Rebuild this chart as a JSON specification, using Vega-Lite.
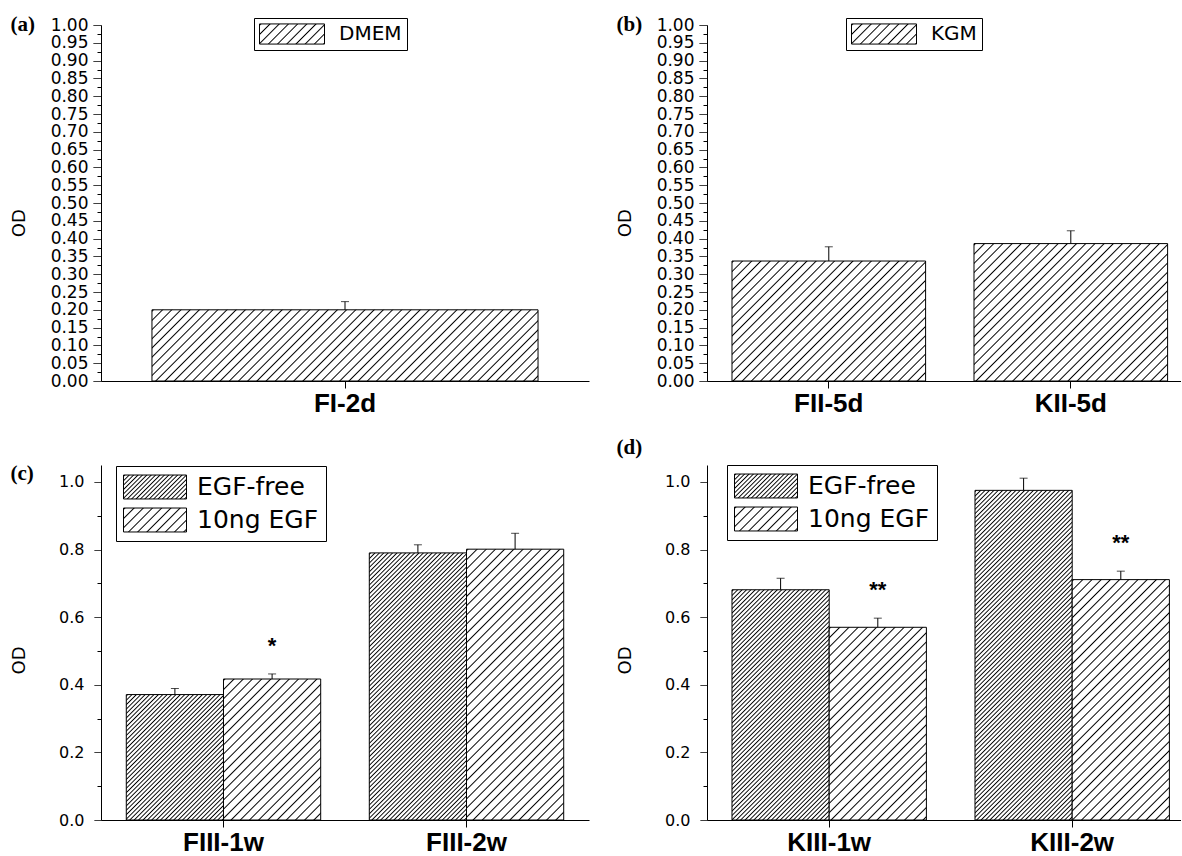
{
"$schema": "https://vega.github.io/schema/vega-lite/v6.json",
"padding": {"left": 10, "top": 14, "right": 0, "bottom": 0},
"params": [
{"name": "gL", "value": {"gradient": "linear", "x1": 0, "y1": 0, "x2": 1, "y2": 1, "stops": [
{"offset":0,"color":"#fff"},{"offset":0.003,"color":"#000"},{"offset":0.006,"color":"#fff"},
{"offset":0.02,"color":"#fff"},{"offset":0.023,"color":"#000"},{"offset":0.026,"color":"#fff"},
{"offset":0.04,"color":"#fff"},{"offset":0.043,"color":"#000"},{"offset":0.046,"color":"#fff"},
{"offset":0.06,"color":"#fff"},{"offset":0.063,"color":"#000"},{"offset":0.066,"color":"#fff"},
{"offset":0.08,"color":"#fff"},{"offset":0.083,"color":"#000"},{"offset":0.086,"color":"#fff"},
{"offset":0.1,"color":"#fff"},{"offset":0.103,"color":"#000"},{"offset":0.106,"color":"#fff"},
{"offset":0.12,"color":"#fff"},{"offset":0.123,"color":"#000"},{"offset":0.126,"color":"#fff"},
{"offset":0.14,"color":"#fff"},{"offset":0.143,"color":"#000"},{"offset":0.146,"color":"#fff"},
{"offset":0.16,"color":"#fff"},{"offset":0.163,"color":"#000"},{"offset":0.166,"color":"#fff"},
{"offset":0.18,"color":"#fff"},{"offset":0.183,"color":"#000"},{"offset":0.186,"color":"#fff"},
{"offset":0.2,"color":"#fff"},{"offset":0.203,"color":"#000"},{"offset":0.206,"color":"#fff"},
{"offset":0.22,"color":"#fff"},{"offset":0.223,"color":"#000"},{"offset":0.226,"color":"#fff"},
{"offset":0.24,"color":"#fff"},{"offset":0.243,"color":"#000"},{"offset":0.246,"color":"#fff"},
{"offset":0.26,"color":"#fff"},{"offset":0.263,"color":"#000"},{"offset":0.266,"color":"#fff"},
{"offset":0.28,"color":"#fff"},{"offset":0.283,"color":"#000"},{"offset":0.286,"color":"#fff"},
{"offset":0.3,"color":"#fff"},{"offset":0.303,"color":"#000"},{"offset":0.306,"color":"#fff"},
{"offset":0.32,"color":"#fff"},{"offset":0.323,"color":"#000"},{"offset":0.326,"color":"#fff"},
{"offset":0.34,"color":"#fff"},{"offset":0.343,"color":"#000"},{"offset":0.346,"color":"#fff"},
{"offset":0.36,"color":"#fff"},{"offset":0.363,"color":"#000"},{"offset":0.366,"color":"#fff"},
{"offset":0.38,"color":"#fff"},{"offset":0.383,"color":"#000"},{"offset":0.386,"color":"#fff"},
{"offset":0.4,"color":"#fff"},{"offset":0.403,"color":"#000"},{"offset":0.406,"color":"#fff"},
{"offset":0.42,"color":"#fff"},{"offset":0.423,"color":"#000"},{"offset":0.426,"color":"#fff"},
{"offset":0.44,"color":"#fff"},{"offset":0.443,"color":"#000"},{"offset":0.446,"color":"#fff"},
{"offset":0.46,"color":"#fff"},{"offset":0.463,"color":"#000"},{"offset":0.466,"color":"#fff"},
{"offset":0.48,"color":"#fff"},{"offset":0.483,"color":"#000"},{"offset":0.486,"color":"#fff"},
{"offset":0.5,"color":"#fff"},{"offset":0.503,"color":"#000"},{"offset":0.506,"color":"#fff"},
{"offset":0.52,"color":"#fff"},{"offset":0.523,"color":"#000"},{"offset":0.526,"color":"#fff"},
{"offset":0.54,"color":"#fff"},{"offset":0.543,"color":"#000"},{"offset":0.546,"color":"#fff"},
{"offset":0.56,"color":"#fff"},{"offset":0.563,"color":"#000"},{"offset":0.566,"color":"#fff"},
{"offset":0.58,"color":"#fff"},{"offset":0.583,"color":"#000"},{"offset":0.586,"color":"#fff"},
{"offset":0.6,"color":"#fff"},{"offset":0.603,"color":"#000"},{"offset":0.606,"color":"#fff"},
{"offset":0.62,"color":"#fff"},{"offset":0.623,"color":"#000"},{"offset":0.626,"color":"#fff"},
{"offset":0.64,"color":"#fff"},{"offset":0.643,"color":"#000"},{"offset":0.646,"color":"#fff"},
{"offset":0.66,"color":"#fff"},{"offset":0.663,"color":"#000"},{"offset":0.666,"color":"#fff"},
{"offset":0.68,"color":"#fff"},{"offset":0.683,"color":"#000"},{"offset":0.686,"color":"#fff"},
{"offset":0.7,"color":"#fff"},{"offset":0.703,"color":"#000"},{"offset":0.706,"color":"#fff"},
{"offset":0.72,"color":"#fff"},{"offset":0.723,"color":"#000"},{"offset":0.726,"color":"#fff"},
{"offset":0.74,"color":"#fff"},{"offset":0.743,"color":"#000"},{"offset":0.746,"color":"#fff"},
{"offset":0.76,"color":"#fff"},{"offset":0.763,"color":"#000"},{"offset":0.766,"color":"#fff"},
{"offset":0.78,"color":"#fff"},{"offset":0.783,"color":"#000"},{"offset":0.786,"color":"#fff"},
{"offset":0.8,"color":"#fff"},{"offset":0.803,"color":"#000"},{"offset":0.806,"color":"#fff"},
{"offset":0.82,"color":"#fff"},{"offset":0.823,"color":"#000"},{"offset":0.826,"color":"#fff"},
{"offset":0.84,"color":"#fff"},{"offset":0.843,"color":"#000"},{"offset":0.846,"color":"#fff"},
{"offset":0.86,"color":"#fff"},{"offset":0.863,"color":"#000"},{"offset":0.866,"color":"#fff"},
{"offset":0.88,"color":"#fff"},{"offset":0.883,"color":"#000"},{"offset":0.886,"color":"#fff"},
{"offset":0.9,"color":"#fff"},{"offset":0.903,"color":"#000"},{"offset":0.906,"color":"#fff"},
{"offset":0.92,"color":"#fff"},{"offset":0.923,"color":"#000"},{"offset":0.926,"color":"#fff"},
{"offset":0.94,"color":"#fff"},{"offset":0.943,"color":"#000"},{"offset":0.946,"color":"#fff"},
{"offset":0.96,"color":"#fff"},{"offset":0.963,"color":"#000"},{"offset":0.966,"color":"#fff"},
{"offset":0.98,"color":"#fff"},{"offset":0.983,"color":"#000"},{"offset":0.986,"color":"#fff"}
]}},
{"name": "gD", "value": {"gradient": "linear", "x1": 0, "y1": 0, "x2": 1, "y2": 1, "stops": [
{"offset":0,"color":"#fff"},{"offset":0.003,"color":"#000"},{"offset":0.006,"color":"#fff"},
{"offset":0.01,"color":"#fff"},{"offset":0.013,"color":"#000"},{"offset":0.016,"color":"#fff"},
{"offset":0.02,"color":"#fff"},{"offset":0.023,"color":"#000"},{"offset":0.026,"color":"#fff"},
{"offset":0.03,"color":"#fff"},{"offset":0.033,"color":"#000"},{"offset":0.036,"color":"#fff"},
{"offset":0.04,"color":"#fff"},{"offset":0.043,"color":"#000"},{"offset":0.046,"color":"#fff"},
{"offset":0.05,"color":"#fff"},{"offset":0.053,"color":"#000"},{"offset":0.056,"color":"#fff"},
{"offset":0.06,"color":"#fff"},{"offset":0.063,"color":"#000"},{"offset":0.066,"color":"#fff"},
{"offset":0.07,"color":"#fff"},{"offset":0.073,"color":"#000"},{"offset":0.076,"color":"#fff"},
{"offset":0.08,"color":"#fff"},{"offset":0.083,"color":"#000"},{"offset":0.086,"color":"#fff"},
{"offset":0.09,"color":"#fff"},{"offset":0.093,"color":"#000"},{"offset":0.096,"color":"#fff"},
{"offset":0.1,"color":"#fff"},{"offset":0.103,"color":"#000"},{"offset":0.106,"color":"#fff"},
{"offset":0.11,"color":"#fff"},{"offset":0.113,"color":"#000"},{"offset":0.116,"color":"#fff"},
{"offset":0.12,"color":"#fff"},{"offset":0.123,"color":"#000"},{"offset":0.126,"color":"#fff"},
{"offset":0.13,"color":"#fff"},{"offset":0.133,"color":"#000"},{"offset":0.136,"color":"#fff"},
{"offset":0.14,"color":"#fff"},{"offset":0.143,"color":"#000"},{"offset":0.146,"color":"#fff"},
{"offset":0.15,"color":"#fff"},{"offset":0.153,"color":"#000"},{"offset":0.156,"color":"#fff"},
{"offset":0.16,"color":"#fff"},{"offset":0.163,"color":"#000"},{"offset":0.166,"color":"#fff"},
{"offset":0.17,"color":"#fff"},{"offset":0.173,"color":"#000"},{"offset":0.176,"color":"#fff"},
{"offset":0.18,"color":"#fff"},{"offset":0.183,"color":"#000"},{"offset":0.186,"color":"#fff"},
{"offset":0.19,"color":"#fff"},{"offset":0.193,"color":"#000"},{"offset":0.196,"color":"#fff"},
{"offset":0.2,"color":"#fff"},{"offset":0.203,"color":"#000"},{"offset":0.206,"color":"#fff"},
{"offset":0.21,"color":"#fff"},{"offset":0.213,"color":"#000"},{"offset":0.216,"color":"#fff"},
{"offset":0.22,"color":"#fff"},{"offset":0.223,"color":"#000"},{"offset":0.226,"color":"#fff"},
{"offset":0.23,"color":"#fff"},{"offset":0.233,"color":"#000"},{"offset":0.236,"color":"#fff"},
{"offset":0.24,"color":"#fff"},{"offset":0.243,"color":"#000"},{"offset":0.246,"color":"#fff"},
{"offset":0.25,"color":"#fff"},{"offset":0.253,"color":"#000"},{"offset":0.256,"color":"#fff"},
{"offset":0.26,"color":"#fff"},{"offset":0.263,"color":"#000"},{"offset":0.266,"color":"#fff"},
{"offset":0.27,"color":"#fff"},{"offset":0.273,"color":"#000"},{"offset":0.276,"color":"#fff"},
{"offset":0.28,"color":"#fff"},{"offset":0.283,"color":"#000"},{"offset":0.286,"color":"#fff"},
{"offset":0.29,"color":"#fff"},{"offset":0.293,"color":"#000"},{"offset":0.296,"color":"#fff"},
{"offset":0.3,"color":"#fff"},{"offset":0.303,"color":"#000"},{"offset":0.306,"color":"#fff"},
{"offset":0.31,"color":"#fff"},{"offset":0.313,"color":"#000"},{"offset":0.316,"color":"#fff"},
{"offset":0.32,"color":"#fff"},{"offset":0.323,"color":"#000"},{"offset":0.326,"color":"#fff"},
{"offset":0.33,"color":"#fff"},{"offset":0.333,"color":"#000"},{"offset":0.336,"color":"#fff"},
{"offset":0.34,"color":"#fff"},{"offset":0.343,"color":"#000"},{"offset":0.346,"color":"#fff"},
{"offset":0.35,"color":"#fff"},{"offset":0.353,"color":"#000"},{"offset":0.356,"color":"#fff"},
{"offset":0.36,"color":"#fff"},{"offset":0.363,"color":"#000"},{"offset":0.366,"color":"#fff"},
{"offset":0.37,"color":"#fff"},{"offset":0.373,"color":"#000"},{"offset":0.376,"color":"#fff"},
{"offset":0.38,"color":"#fff"},{"offset":0.383,"color":"#000"},{"offset":0.386,"color":"#fff"},
{"offset":0.39,"color":"#fff"},{"offset":0.393,"color":"#000"},{"offset":0.396,"color":"#fff"},
{"offset":0.4,"color":"#fff"},{"offset":0.403,"color":"#000"},{"offset":0.406,"color":"#fff"},
{"offset":0.41,"color":"#fff"},{"offset":0.413,"color":"#000"},{"offset":0.416,"color":"#fff"},
{"offset":0.42,"color":"#fff"},{"offset":0.423,"color":"#000"},{"offset":0.426,"color":"#fff"},
{"offset":0.43,"color":"#fff"},{"offset":0.433,"color":"#000"},{"offset":0.436,"color":"#fff"},
{"offset":0.44,"color":"#fff"},{"offset":0.443,"color":"#000"},{"offset":0.446,"color":"#fff"},
{"offset":0.45,"color":"#fff"},{"offset":0.453,"color":"#000"},{"offset":0.456,"color":"#fff"},
{"offset":0.46,"color":"#fff"},{"offset":0.463,"color":"#000"},{"offset":0.466,"color":"#fff"},
{"offset":0.47,"color":"#fff"},{"offset":0.473,"color":"#000"},{"offset":0.476,"color":"#fff"},
{"offset":0.48,"color":"#fff"},{"offset":0.483,"color":"#000"},{"offset":0.486,"color":"#fff"},
{"offset":0.49,"color":"#fff"},{"offset":0.493,"color":"#000"},{"offset":0.496,"color":"#fff"},
{"offset":0.5,"color":"#fff"},{"offset":0.503,"color":"#000"},{"offset":0.506,"color":"#fff"},
{"offset":0.51,"color":"#fff"},{"offset":0.513,"color":"#000"},{"offset":0.516,"color":"#fff"},
{"offset":0.52,"color":"#fff"},{"offset":0.523,"color":"#000"},{"offset":0.526,"color":"#fff"},
{"offset":0.53,"color":"#fff"},{"offset":0.533,"color":"#000"},{"offset":0.536,"color":"#fff"},
{"offset":0.54,"color":"#fff"},{"offset":0.543,"color":"#000"},{"offset":0.546,"color":"#fff"},
{"offset":0.55,"color":"#fff"},{"offset":0.553,"color":"#000"},{"offset":0.556,"color":"#fff"},
{"offset":0.56,"color":"#fff"},{"offset":0.563,"color":"#000"},{"offset":0.566,"color":"#fff"},
{"offset":0.57,"color":"#fff"},{"offset":0.573,"color":"#000"},{"offset":0.576,"color":"#fff"},
{"offset":0.58,"color":"#fff"},{"offset":0.583,"color":"#000"},{"offset":0.586,"color":"#fff"},
{"offset":0.59,"color":"#fff"},{"offset":0.593,"color":"#000"},{"offset":0.596,"color":"#fff"},
{"offset":0.6,"color":"#fff"},{"offset":0.603,"color":"#000"},{"offset":0.606,"color":"#fff"},
{"offset":0.61,"color":"#fff"},{"offset":0.613,"color":"#000"},{"offset":0.616,"color":"#fff"},
{"offset":0.62,"color":"#fff"},{"offset":0.623,"color":"#000"},{"offset":0.626,"color":"#fff"},
{"offset":0.63,"color":"#fff"},{"offset":0.633,"color":"#000"},{"offset":0.636,"color":"#fff"},
{"offset":0.64,"color":"#fff"},{"offset":0.643,"color":"#000"},{"offset":0.646,"color":"#fff"},
{"offset":0.65,"color":"#fff"},{"offset":0.653,"color":"#000"},{"offset":0.656,"color":"#fff"},
{"offset":0.66,"color":"#fff"},{"offset":0.663,"color":"#000"},{"offset":0.666,"color":"#fff"},
{"offset":0.67,"color":"#fff"},{"offset":0.673,"color":"#000"},{"offset":0.676,"color":"#fff"},
{"offset":0.68,"color":"#fff"},{"offset":0.683,"color":"#000"},{"offset":0.686,"color":"#fff"},
{"offset":0.69,"color":"#fff"},{"offset":0.693,"color":"#000"},{"offset":0.696,"color":"#fff"},
{"offset":0.7,"color":"#fff"},{"offset":0.703,"color":"#000"},{"offset":0.706,"color":"#fff"},
{"offset":0.71,"color":"#fff"},{"offset":0.713,"color":"#000"},{"offset":0.716,"color":"#fff"},
{"offset":0.72,"color":"#fff"},{"offset":0.723,"color":"#000"},{"offset":0.726,"color":"#fff"},
{"offset":0.73,"color":"#fff"},{"offset":0.733,"color":"#000"},{"offset":0.736,"color":"#fff"},
{"offset":0.74,"color":"#fff"},{"offset":0.743,"color":"#000"},{"offset":0.746,"color":"#fff"},
{"offset":0.75,"color":"#fff"},{"offset":0.753,"color":"#000"},{"offset":0.756,"color":"#fff"},
{"offset":0.76,"color":"#fff"},{"offset":0.763,"color":"#000"},{"offset":0.766,"color":"#fff"},
{"offset":0.77,"color":"#fff"},{"offset":0.773,"color":"#000"},{"offset":0.776,"color":"#fff"},
{"offset":0.78,"color":"#fff"},{"offset":0.783,"color":"#000"},{"offset":0.786,"color":"#fff"},
{"offset":0.79,"color":"#fff"},{"offset":0.793,"color":"#000"},{"offset":0.796,"color":"#fff"},
{"offset":0.8,"color":"#fff"},{"offset":0.803,"color":"#000"},{"offset":0.806,"color":"#fff"},
{"offset":0.81,"color":"#fff"},{"offset":0.813,"color":"#000"},{"offset":0.816,"color":"#fff"},
{"offset":0.82,"color":"#fff"},{"offset":0.823,"color":"#000"},{"offset":0.826,"color":"#fff"},
{"offset":0.83,"color":"#fff"},{"offset":0.833,"color":"#000"},{"offset":0.836,"color":"#fff"},
{"offset":0.84,"color":"#fff"},{"offset":0.843,"color":"#000"},{"offset":0.846,"color":"#fff"},
{"offset":0.85,"color":"#fff"},{"offset":0.853,"color":"#000"},{"offset":0.856,"color":"#fff"},
{"offset":0.86,"color":"#fff"},{"offset":0.863,"color":"#000"},{"offset":0.866,"color":"#fff"},
{"offset":0.87,"color":"#fff"},{"offset":0.873,"color":"#000"},{"offset":0.876,"color":"#fff"},
{"offset":0.88,"color":"#fff"},{"offset":0.883,"color":"#000"},{"offset":0.886,"color":"#fff"},
{"offset":0.89,"color":"#fff"},{"offset":0.893,"color":"#000"},{"offset":0.896,"color":"#fff"},
{"offset":0.9,"color":"#fff"},{"offset":0.903,"color":"#000"},{"offset":0.906,"color":"#fff"},
{"offset":0.91,"color":"#fff"},{"offset":0.913,"color":"#000"},{"offset":0.916,"color":"#fff"},
{"offset":0.92,"color":"#fff"},{"offset":0.923,"color":"#000"},{"offset":0.926,"color":"#fff"},
{"offset":0.93,"color":"#fff"},{"offset":0.933,"color":"#000"},{"offset":0.936,"color":"#fff"},
{"offset":0.94,"color":"#fff"},{"offset":0.943,"color":"#000"},{"offset":0.946,"color":"#fff"},
{"offset":0.95,"color":"#fff"},{"offset":0.953,"color":"#000"},{"offset":0.956,"color":"#fff"},
{"offset":0.96,"color":"#fff"},{"offset":0.963,"color":"#000"},{"offset":0.966,"color":"#fff"},
{"offset":0.97,"color":"#fff"},{"offset":0.973,"color":"#000"},{"offset":0.976,"color":"#fff"},
{"offset":0.98,"color":"#fff"},{"offset":0.983,"color":"#000"},{"offset":0.986,"color":"#fff"},
{"offset":0.99,"color":"#fff"},{"offset":0.993,"color":"#000"},{"offset":0.996,"color":"#fff"}
]}}
],
"config": {
  "view": {"stroke": null},
  "axis": {"domainColor": "black", "tickColor": "black", "labelColor": "black", "titleColor": "black", "grid": false, "domainWidth": 1, "tickWidth": 1, "labelOverlap": false, "labelFlush": false, "labelBound": false},
  "axisX": {"labelFont": "Liberation Sans", "labelFontWeight": "bold", "labelFontSize": 26, "labelAngle": 0, "tickSize": 7, "labelPadding": 2},
  "axisY": {"titleFont": "DejaVu Sans", "titleFontSize": 18, "titleFontWeight": "normal", "labelFont": "DejaVu Sans"},
  "legend": {"orient": "none", "strokeColor": "black", "fillColor": "white", "labelFont": "DejaVu Sans", "labelColor": "black", "labelLimit": 400, "symbolStrokeColor": "black", "symbolStrokeWidth": 1, "symbolOpacity": 1},
  "title": {"anchor": "start", "frame": "bounds", "font": "Liberation Serif", "fontSize": 21, "fontWeight": "bold", "color": "black", "baseline": "middle", "offset": 0, "dy": 23}
},
"resolve": {"scale": {"fill": "independent"}, "legend": {"fill": "independent"}},
"columns": 2,
"spacing": {"row": 84, "column": 118},
"bounds": "flush",
"concat": [
{
  "width": 488, "height": 356,
  "title": {"text": "(a)"},
  "data": {"values": [{"cat": "FI-2d", "s": "DMEM", "v": 0.2, "hi": 0.223}]},
  "encoding": {
    "x": {"field": "cat", "type": "nominal", "title": null, "scale": {"paddingInner": 0, "paddingOuter": 0.132}},
    "y": {"field": "v", "type": "quantitative", "title": "OD", "scale": {"domain": [0, 1], "nice": false},
      "axis": {"values": [0,0.025,0.05,0.075,0.1,0.125,0.15,0.175,0.2,0.225,0.25,0.275,0.3,0.325,0.35,0.375,0.4,0.425,0.45,0.475,0.5,0.525,0.55,0.575,0.6,0.625,0.65,0.675,0.7,0.725,0.75,0.775,0.8,0.825,0.85,0.875,0.9,0.925,0.95,0.975,1],
        "format": ".2f", "labelExpr": "round(datum.value*40)%2 ? '' : datum.label",
        "tickDash": {"condition": {"test": "round(datum.value*40)%2==1", "value": [4, 20]}, "value": [1, 0]},
        "tickSize": 8, "labelPadding": 5, "labelFontSize": 17, "titleX": -81.5, "titleY": 197.7, "titleBaseline": "middle"}}
  },
  "layer": [
    {"mark": {"type": "bar", "stroke": "black", "strokeWidth": 1, "fill": {"expr": "merge(gL,{x2:460*386.08/(149057.8+pow(datum.v*356,2)),y2:460*datum.v*356/(149057.8+pow(datum.v*356,2))})"}}},
    {"mark": {"type": "bar", "fillOpacity": 0, "strokeWidth": 0},
     "encoding": {"fill": {"field": "s", "type": "nominal", "scale": {"domain": ["DMEM"], "range": [{"expr": "merge(gL,{x2:460*65/4631,y2:460*20.15/4631})"}]},
       "legend": {"title": null, "legendX": 153, "legendY": -7, "padding": 5, "labelFontSize": 20, "labelOffset": 14, "clipHeight": 22,
         "symbolType": "M-1,-0.31H1V0.31H-1Z", "symbolSize": 4225}}}},
    {"mark": {"type": "rule", "color": "black", "strokeWidth": 1}, "encoding": {"y2": {"field": "hi"}}},
    {"mark": {"type": "tick", "color": "black", "thickness": 1, "size": 8},
     "encoding": {"y": {"field": "hi", "type": "quantitative", "title": "OD", "scale": {"domain": [0, 1], "nice": false}}}}
  ]
},
{
  "width": 474, "height": 356,
  "title": {"text": "(b)"},
  "data": {"values": [{"cat": "FII-5d", "s": "KGM", "v": 0.337, "hi": 0.377}, {"cat": "KII-5d", "s": "KGM", "v": 0.386, "hi": 0.422}]},
  "encoding": {
    "x": {"field": "cat", "type": "nominal", "title": null, "scale": {"paddingInner": 0.2, "paddingOuter": 0.0793, "align": 0.651}},
    "y": {"field": "v", "type": "quantitative", "title": "OD", "scale": {"domain": [0, 1], "nice": false},
      "axis": {"values": [0,0.025,0.05,0.075,0.1,0.125,0.15,0.175,0.2,0.225,0.25,0.275,0.3,0.325,0.35,0.375,0.4,0.425,0.45,0.475,0.5,0.525,0.55,0.575,0.6,0.625,0.65,0.675,0.7,0.725,0.75,0.775,0.8,0.825,0.85,0.875,0.9,0.925,0.95,0.975,1],
        "format": ".2f", "labelExpr": "round(datum.value*40)%2 ? '' : datum.label",
        "tickDash": {"condition": {"test": "round(datum.value*40)%2==1", "value": [4, 20]}, "value": [1, 0]},
        "tickSize": 8, "labelPadding": 5, "labelFontSize": 17, "titleX": -81.5, "titleY": 197.7, "titleBaseline": "middle"}}
  },
  "layer": [
    {"mark": {"type": "bar", "stroke": "black", "strokeWidth": 1, "fill": {"expr": "merge(gL,{x2:460*193.6/(37480.96+pow(datum.v*356,2)),y2:460*datum.v*356/(37480.96+pow(datum.v*356,2))})"}}},
    {"mark": {"type": "bar", "fillOpacity": 0, "strokeWidth": 0},
     "encoding": {"fill": {"field": "s", "type": "nominal", "scale": {"domain": ["KGM"], "range": [{"expr": "merge(gL,{x2:460*65/4631,y2:460*20.15/4631})"}]},
       "legend": {"title": null, "legendX": 139, "legendY": -7, "padding": 5, "labelFontSize": 20, "labelOffset": 14, "clipHeight": 22,
         "symbolType": "M-1,-0.31H1V0.31H-1Z", "symbolSize": 4225}}}},
    {"mark": {"type": "rule", "color": "black", "strokeWidth": 1}, "encoding": {"y2": {"field": "hi"}}},
    {"mark": {"type": "tick", "color": "black", "thickness": 1, "size": 8},
     "encoding": {"y": {"field": "hi", "type": "quantitative", "title": "OD", "scale": {"domain": [0, 1], "nice": false}}}}
  ]
},
{
  "width": 488, "height": 355,
  "title": {"text": "(c)"},
  "data": {"values": [
    {"g": "FIII-1w", "s": "EGF-free", "v": 0.371, "hi": 0.389, "sig": ""},
    {"g": "FIII-1w", "s": "10ng EGF", "v": 0.417, "hi": 0.432, "sig": "*"},
    {"g": "FIII-2w", "s": "EGF-free", "v": 0.79, "hi": 0.814, "sig": ""},
    {"g": "FIII-2w", "s": "10ng EGF", "v": 0.801, "hi": 0.848, "sig": ""}]},
  "encoding": {
    "x": {"field": "g", "type": "nominal", "title": null, "scale": {"paddingInner": 0.2, "paddingOuter": 0.1041, "align": 0.5}},
    "xOffset": {"field": "s", "type": "nominal", "sort": ["EGF-free", "10ng EGF"], "scale": {"paddingInner": 0, "paddingOuter": 0}},
    "y": {"field": "v", "type": "quantitative", "title": "OD", "scale": {"domain": [0, 1.05], "nice": false},
      "axis": {"values": [0,0.1,0.2,0.3,0.4,0.5,0.6,0.7,0.8,0.9,1], "format": ".1f", "labelExpr": "round(datum.value*10)%2 ? '' : datum.label",
        "tickDash": {"condition": {"test": "round(datum.value*10)%2==1", "value": [4, 20]}, "value": [1, 0]},
        "tickSize": 7, "labelPadding": 10, "labelFontSize": 16, "titleX": -81.5, "titleY": 195, "titleBaseline": "middle"}}
  },
  "layer": [
    {"mark": {"type": "bar", "stroke": "black", "strokeWidth": 1, "fill": {"expr": "merge(datum.s=='EGF-free'?gD:gL,{x2:(datum.s=='EGF-free'?440:460)*97.2/(9447.84+pow(datum.v*338.1,2)),y2:(datum.s=='EGF-free'?440:460)*datum.v*338.1/(9447.84+pow(datum.v*338.1,2))})"}}},
    {"mark": {"type": "bar", "fillOpacity": 0, "strokeWidth": 0},
     "encoding": {"fill": {"field": "s", "type": "nominal", "scale": {"domain": ["EGF-free", "10ng EGF"], "range": [{"expr": "merge(gD,{x2:440*63/4542,y2:440*24/4542})"}, {"expr": "merge(gL,{x2:460*63/4542,y2:460*24/4542})"}]},
       "legend": {"title": null, "legendX": 15, "legendY": 1, "padding": 7, "rowPadding": 5, "labelFontSize": 25, "labelOffset": 10, "clipHeight": 28,
         "symbolType": "M-1,-0.38H1V0.38H-1Z", "symbolSize": 3969}}}},
    {"mark": {"type": "rule", "color": "black", "strokeWidth": 1}, "encoding": {"y2": {"field": "hi"}}},
    {"mark": {"type": "tick", "color": "black", "thickness": 1, "size": 8},
     "encoding": {"y": {"field": "hi", "type": "quantitative", "title": "OD", "scale": {"domain": [0, 1.05], "nice": false}}}},
    {"mark": {"type": "text", "font": "Liberation Sans", "fontSize": 22, "fontWeight": "bold", "baseline": "middle", "dy": -28, "color": "black"},
     "encoding": {"y": {"field": "hi", "type": "quantitative", "title": "OD", "scale": {"domain": [0, 1.05], "nice": false}}, "text": {"field": "sig"}}}
  ]
},
{
  "width": 474, "height": 355,
  "title": {"text": "(d)"},
  "data": {"values": [
    {"g": "KIII-1w", "s": "EGF-free", "v": 0.681, "hi": 0.715, "sig": ""},
    {"g": "KIII-1w", "s": "10ng EGF", "v": 0.57, "hi": 0.597, "sig": "**"},
    {"g": "KIII-2w", "s": "EGF-free", "v": 0.975, "hi": 1.011, "sig": ""},
    {"g": "KIII-2w", "s": "10ng EGF", "v": 0.711, "hi": 0.736, "sig": "**"}]},
  "encoding": {
    "x": {"field": "g", "type": "nominal", "title": null, "scale": {"paddingInner": 0.2, "paddingOuter": 0.0753, "align": 0.683}},
    "xOffset": {"field": "s", "type": "nominal", "sort": ["EGF-free", "10ng EGF"], "scale": {"paddingInner": 0, "paddingOuter": 0}},
    "y": {"field": "v", "type": "quantitative", "title": "OD", "scale": {"domain": [0, 1.05], "nice": false},
      "axis": {"values": [0,0.1,0.2,0.3,0.4,0.5,0.6,0.7,0.8,0.9,1], "format": ".1f", "labelExpr": "round(datum.value*10)%2 ? '' : datum.label",
        "tickDash": {"condition": {"test": "round(datum.value*10)%2==1", "value": [4, 20]}, "value": [1, 0]},
        "tickSize": 7, "labelPadding": 10, "labelFontSize": 16, "titleX": -81.5, "titleY": 195, "titleBaseline": "middle"}}
  },
  "layer": [
    {"mark": {"type": "bar", "stroke": "black", "strokeWidth": 1, "fill": {"expr": "merge(datum.s=='EGF-free'?gD:gL,{x2:(datum.s=='EGF-free'?440:460)*97.2/(9447.84+pow(datum.v*338.1,2)),y2:(datum.s=='EGF-free'?440:460)*datum.v*338.1/(9447.84+pow(datum.v*338.1,2))})"}}},
    {"mark": {"type": "bar", "fillOpacity": 0, "strokeWidth": 0},
     "encoding": {"fill": {"field": "s", "type": "nominal", "scale": {"domain": ["EGF-free", "10ng EGF"], "range": [{"expr": "merge(gD,{x2:440*63/4542,y2:440*24/4542})"}, {"expr": "merge(gL,{x2:460*63/4542,y2:460*24/4542})"}]},
       "legend": {"title": null, "legendX": 20, "legendY": 0, "padding": 7, "rowPadding": 5, "labelFontSize": 25, "labelOffset": 10, "clipHeight": 28,
         "symbolType": "M-1,-0.38H1V0.38H-1Z", "symbolSize": 3969}}}},
    {"mark": {"type": "rule", "color": "black", "strokeWidth": 1}, "encoding": {"y2": {"field": "hi"}}},
    {"mark": {"type": "tick", "color": "black", "thickness": 1, "size": 8},
     "encoding": {"y": {"field": "hi", "type": "quantitative", "title": "OD", "scale": {"domain": [0, 1.05], "nice": false}}}},
    {"mark": {"type": "text", "font": "Liberation Sans", "fontSize": 22, "fontWeight": "bold", "baseline": "middle", "dy": -28, "color": "black"},
     "encoding": {"y": {"field": "hi", "type": "quantitative", "title": "OD", "scale": {"domain": [0, 1.05], "nice": false}}, "text": {"field": "sig"}}}
  ]
}
]
}
